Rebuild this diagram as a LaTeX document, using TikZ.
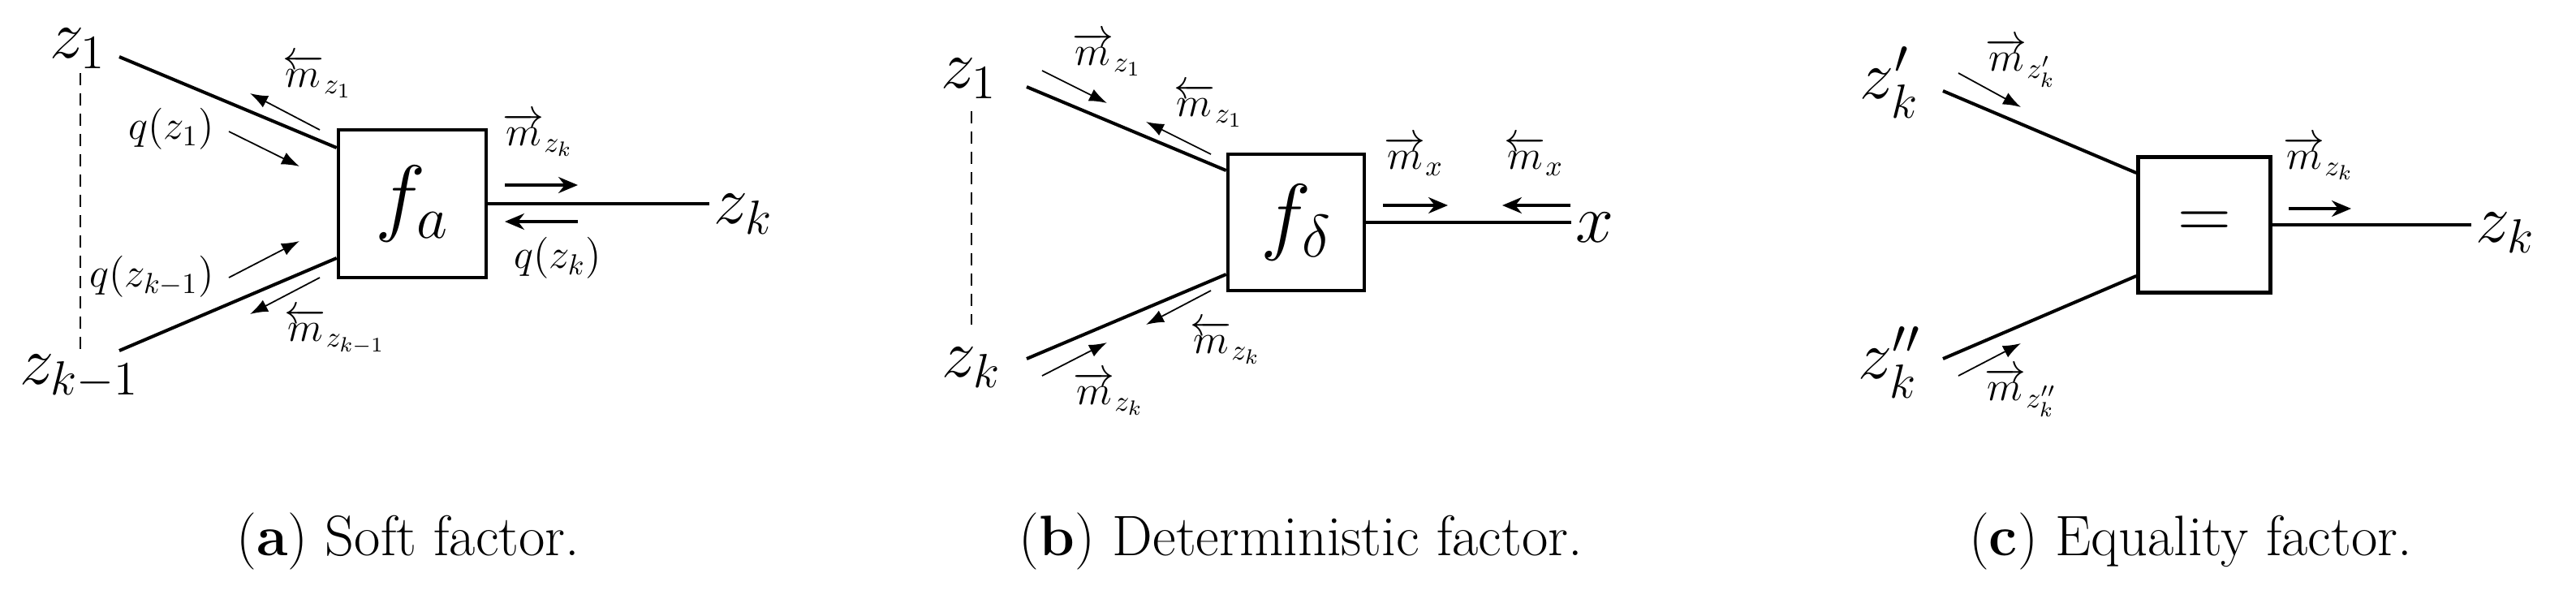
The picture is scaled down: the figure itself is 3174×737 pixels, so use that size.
\RequirePackage{fix-cm}
\documentclass[tikz,border=0pt]{standalone}
\usepackage{amsmath}
\usepackage{tikz}
\usetikzlibrary{positioning, arrows.meta}

\begin{document}
\begin{tikzpicture}[x=0.1mm, y=-0.1mm,
  lab/.style={font=\fontsize{24}{28}\selectfont, inner sep=0.5mm},
  msg/.style={font=\fontsize{14.5}{17}\selectfont, inner sep=0pt},
  factor/.style={draw, line width=1.3pt, inner sep=0pt, font=\fontsize{30}{34}\selectfont},
  edge/.style={line width=1.15pt},
  marrow/.style={-{Latex[length=2.2mm,width=1.6mm]}, line width=0.5pt},
  harrow/.style={-{Stealth[length=2.4mm,width=2mm]}, line width=0.9pt},
  dots/.style={dash pattern=on 1.5mm off 1mm, line width=0.6pt},
  capt/.style={font=\fontsize{20}{24}\selectfont}]
  \useasboundingbox (0,0) rectangle (3174,737);

  % (a) soft factor
  \node[factor, minimum size=18.2mm] (fa) at (508,251) {$f_a$};
  \node[lab] (a1) at (96,60) {$z_1$};
  \node[lab] (ak1) at (98,464) {$z_{k-1}$};
  \node[lab, anchor=west] (ak) at (874,264) {$z_k$};
  \coordinate (a1e) at (147,70);
  \coordinate (ak1e) at (147,432);
  \draw[edge] (a1e) -- ([yshift=6.9mm]fa.west);
  \draw[edge] (ak1e) -- ([yshift=-6.7mm]fa.west);
  \draw[edge] (fa.east) -- (ak.west |- fa.east);
  \draw[dots] (99,90) -- (99,432);
  \node[msg] (ma1) at (391,94) {$\overleftarrow{m}_{z_1}$};
  \node[msg] (qa1) at (211,159) {$q(z_1)$};
  \node[msg] (qak1) at (187,341) {$q(z_{k-1})$};
  \node[msg] (mak1) at (413,408) {$\overleftarrow{m}_{z_{k-1}}$};
  \node[msg] (mak) at (663,166) {$\overrightarrow{m}_{z_k}$};
  \node[msg] (qak) at (687,318) {$q(z_k)$};
  \draw[marrow] (394,160) -- (308,115);
  \draw[marrow] (282,162) -- (369,205);
  \draw[marrow] (282,342) -- (369,297);
  \draw[marrow] (394,342) -- (308,387);
  \draw[harrow] (622,228) -- (712,228);
  \draw[harrow] (712,273) -- (622,273);

  % (b) deterministic factor
  \node[factor, minimum size=16.8mm] (fd) at (1597,274) {$f_\delta$};
  \node[lab] (b1) at (1194,97) {$z_1$};
  \node[lab] (bk) at (1197,453) {$z_k$};
  \node[lab, anchor=west] (bx) at (1936,280) {$x$};
  \coordinate (b1e) at (1265,107);
  \coordinate (bke) at (1265,442);
  \draw[edge] (b1e) -- ([yshift=6.4mm]fd.west);
  \draw[edge] (bke) -- ([yshift=-6.4mm]fd.west);
  \draw[edge] (fd.east) -- (bx.west |- fd.east);
  \draw[dots] (1197,137) -- (1197,400);
  \node[msg] (mb1r) at (1364,67) {$\overrightarrow{m}_{z_1}$};
  \node[msg] (mb1l) at (1489,130) {$\overleftarrow{m}_{z_1}$};
  \node[msg] (mbxr) at (1742,192) {$\overrightarrow{m}_{x}$};
  \node[msg] (mbxl) at (1890,192) {$\overleftarrow{m}_{x}$};
  \node[msg] (mbkl) at (1510,422) {$\overleftarrow{m}_{z_k}$};
  \node[msg] (mbkr) at (1366,485) {$\overrightarrow{m}_{z_k}$};
  \draw[marrow] (1284,87) -- (1364,127);
  \draw[marrow] (1492,190) -- (1412,150);
  \draw[marrow] (1492,358) -- (1412,400);
  \draw[marrow] (1284,463) -- (1364,422);
  \draw[harrow] (1704,253) -- (1784,253);
  \draw[harrow] (1935,253) -- (1851,253);

  % (c) equality factor
  \node[factor, minimum width=16.3mm, minimum height=16.7mm, font=\fontsize{26}{30}\selectfont] (fe) at (2716,277) {$=$};
  \node[lab] (c1) at (2328,102) {$z^{\prime}_k$};
  \node[lab] (c2) at (2328,447) {$z^{\prime\prime}_k$};
  \node[lab, anchor=west] (ck) at (3045,287) {$z_k$};
  \coordinate (c1e) at (2394,112);
  \coordinate (c2e) at (2394,442);
  \draw[edge] (c1e) -- ([yshift=6.4mm]fe.west);
  \draw[edge] (c2e) -- ([yshift=-6.3mm]fe.west);
  \draw[edge] (fe.east) -- (ck.west |- fe.east);
  \node[msg] (mc1) at (2490,77) {$\overrightarrow{m}_{z^{\prime}_k}$};
  \node[msg] (mc2) at (2490,483) {$\overrightarrow{m}_{z^{\prime\prime}_k}$};
  \node[msg] (mck) at (2857,195) {$\overrightarrow{m}_{z_k}$};
  \draw[marrow] (2413,90) -- (2490,132);
  \draw[marrow] (2413,463) -- (2490,423);
  \draw[harrow] (2820,257) -- (2897,257);

  % captions
  \node[capt] (capa) at (503,667) {(\textbf{a}) Soft factor.};
  \node[capt] (capb) at (1603,667) {(\textbf{b}) Deterministic factor.};
  \node[capt] (capc) at (2699,667) {(\textbf{c}) Equality factor.};
\end{tikzpicture}
\end{document}
